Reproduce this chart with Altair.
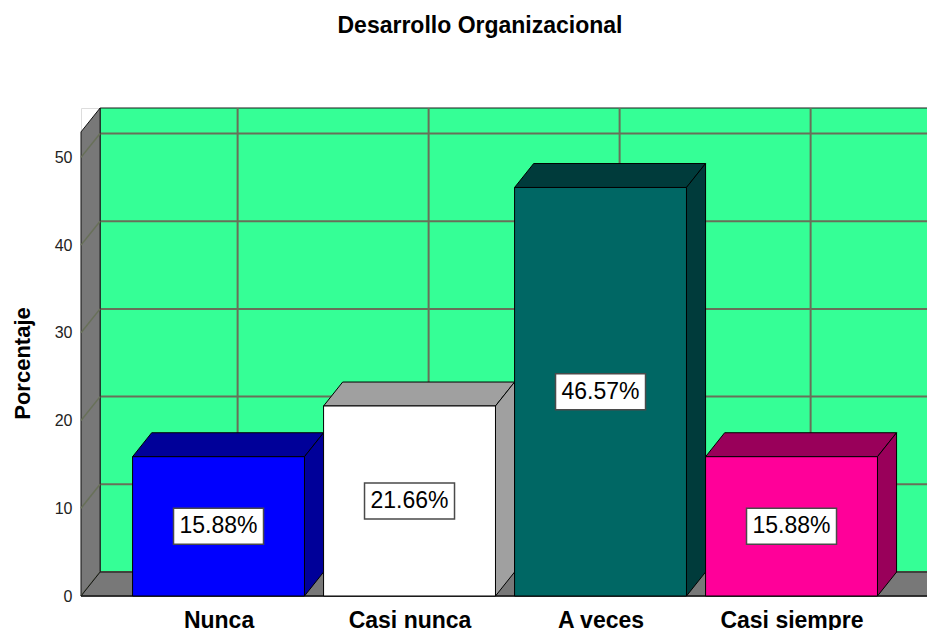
import json
import altair as alt
import pandas as pd

# ---------------- data ----------------
categories = ["Nunca", "Casi nunca", "A veces", "Casi siempre"]
values = [15.88, 21.66, 46.57, 15.88]
front_colors = ["#0000ff", "#ffffff", "#006764", "#ff0099"]
shade_colors = ["#000099", "#a0a0a0", "#003b3b", "#99005a"]
y_ticks = [0, 10, 20, 30, 40, 50]

# ---------------- 3-D frame settings (in data units) ----------------
PLOT_W = 846
X_MIN = -0.72
X_MAX = X_MIN + PLOT_W / 191.0  # visible x range of the plot area
FRAME_R = 3.72                  # front right edge of the floor
FRAME_TOP = 52.9                # front top of the side wall
DX, DY = 0.1, 2.73              # depth offset of the back plane
HALF = 0.45                     # half bar width
Y_MAX = FRAME_TOP + DY

GREEN = "#35ff96"
GRID = "#687059"
WALL = "#787878"
FONT = "Liberation Sans"

xs = alt.Scale(domain=[X_MIN, X_MAX], nice=False, zero=False)
ys = alt.Scale(domain=[0, Y_MAX], nice=False, zero=False)
idx = list(range(len(categories)))

x_axis = alt.Axis(
    values=idx,
    labelExpr=json.dumps(categories) + "[datum.value]",
    title=None, ticks=False, domain=False, grid=False,
    labelFont=FONT, labelFontSize=23, labelFontWeight="bold", labelColor="#000000",
    labelPadding=31, labelBaseline="alphabetic", labelFlush=False, labelOverlap=False,
)
y_axis = alt.Axis(
    values=y_ticks, title="Porcentaje", grid=False, ticks=False, tickSize=0, domain=False,
    labelFont=FONT, labelFontSize=16, labelColor="#222222", labelPadding=9, labelFlush=False,
    titleFont=FONT, titleFontSize=22, titleFontWeight="bold", titleColor="#000000",
    titleAngle=270, titleX=-52, titleY=255, titleAlign="center", titleBaseline="alphabetic",
)


def X(field="x"):
    return alt.X(f"{field}:Q", scale=xs, axis=x_axis, title=None)


def Y(field="y"):
    return alt.Y(f"{field}:Q", scale=ys, axis=y_axis, title="Porcentaje")


# back wall
wall_df = pd.DataFrame({"x": [X_MIN + DX], "x2": [FRAME_R + DX], "y": [DY], "y2": [FRAME_TOP + DY]})
wall = alt.Chart(wall_df).mark_rect(fill=GREEN, stroke="#1a1a1a", strokeWidth=1).encode(
    x=X(), x2="x2:Q", y=Y(), y2="y2:Q")

# back wall grid
hgrid_df = pd.DataFrame({"x": [X_MIN + DX] * len(y_ticks), "x2": [FRAME_R + DX] * len(y_ticks),
                         "y": [v + DY for v in y_ticks]})
hgrid = alt.Chart(hgrid_df).mark_rule(color=GRID, strokeWidth=2).encode(x=X(), x2="x2:Q", y=Y())
vgrid_df = pd.DataFrame({"x": [i + DX for i in idx], "y": [DY] * len(idx), "y2": [FRAME_TOP + DY] * len(idx)})
vgrid = alt.Chart(vgrid_df).mark_rule(color=GRID, strokeWidth=2).encode(x=X(), y=Y(), y2="y2:Q")

# side wall
side_df = pd.DataFrame({"x": [X_MIN, X_MIN + DX], "y": [0, DY], "y2": [FRAME_TOP, FRAME_TOP + DY]})
side = alt.Chart(side_df).mark_area(orient="vertical", fill=WALL, stroke="#111111", strokeWidth=1).encode(
    x=X(), y=Y(), y2="y2:Q")
diag_df = pd.DataFrame({"x": [X_MIN] * len(y_ticks), "x2": [X_MIN + DX] * len(y_ticks),
                        "y": y_ticks, "y2": [v + DY for v in y_ticks]})
diag = alt.Chart(diag_df).mark_rule(color=GRID, strokeWidth=1.5).encode(x=X(), x2="x2:Q", y=Y(), y2="y2:Q")

# floor
floor_df = pd.DataFrame({"y": [0, DY], "x": [X_MIN, X_MIN + DX], "x2": [FRAME_R, FRAME_R + DX]})
floor = alt.Chart(floor_df).mark_area(orient="horizontal", fill=WALL, stroke="#111111", strokeWidth=1).encode(
    y=Y(), x=X(), x2="x2:Q")
base_df = pd.DataFrame({"x": [X_MIN], "x2": [FRAME_R], "y": [0]})
baseline = alt.Chart(base_df).mark_rule(color="#222222", strokeWidth=1.5).encode(x=X(), x2="x2:Q", y=Y())

# bars: top faces, side faces, front faces
top_rows, side_rows, front_rows, lab_rows = [], [], [], []
for i, (c, v) in enumerate(zip(categories, values)):
    top_rows += [
        {"cat": c, "y": v, "x": i - HALF, "x2": i + HALF, "col": shade_colors[i]},
        {"cat": c, "y": v + DY, "x": i - HALF + DX, "x2": i + HALF + DX, "col": shade_colors[i]},
    ]
    side_rows += [
        {"cat": c, "x": i + HALF, "y": 0, "y2": v, "col": shade_colors[i]},
        {"cat": c, "x": i + HALF + DX, "y": DY, "y2": v + DY, "col": shade_colors[i]},
    ]
    front_rows.append({"cat": c, "x": i - HALF, "x2": i + HALF, "y": 0, "y2": v, "col": front_colors[i]})
    lab_rows.append({"cat": c, "x": i, "y": v / 2, "label": f"{v:.2f}%"})

tops = alt.Chart(pd.DataFrame(top_rows)).mark_area(orient="horizontal", stroke="#000000", strokeWidth=1).encode(
    y=Y(), x=X(), x2="x2:Q", fill=alt.Fill("col:N", scale=None), detail="cat:N")
sides = alt.Chart(pd.DataFrame(side_rows)).mark_area(orient="vertical", stroke="#000000", strokeWidth=1).encode(
    x=X(), y=Y(), y2="y2:Q", fill=alt.Fill("col:N", scale=None), detail="cat:N")
fronts = alt.Chart(pd.DataFrame(front_rows)).mark_rect(stroke="#000000", strokeWidth=1).encode(
    x=X(), x2="x2:Q", y=Y(), y2="y2:Q", fill=alt.Fill("col:N", scale=None))

lab_df = pd.DataFrame(lab_rows)
boxes = alt.Chart(lab_df).mark_point(
    shape="M-1,-0.4L1,-0.4L1,0.4L-1,0.4Z", size=8100, filled=True, fill="#ffffff",
    stroke="#4a4a4a", strokeWidth=1.5, opacity=1,
).encode(x=X(), y=Y())
texts = alt.Chart(lab_df).mark_text(font=FONT, fontSize=23, color="#000000", align="center", baseline="middle").encode(
    x=X(), y=Y(), text="label:N")

chart = alt.layer(
    wall, hgrid, vgrid, side, diag, floor, baseline, tops, sides, fronts, boxes, texts
).properties(
    width=PLOT_W, height=488,
    autosize=alt.AutoSizeParams(type="none"),
    padding={"left": 73, "top": 100, "right": 0, "bottom": 34},
    title=alt.TitleParams("Desarrollo Organizacional", font=FONT, fontSize=23, fontWeight="bold",
                          color="#000000", anchor="middle", frame="group", offset=50,
                          baseline="alphabetic", dx=-24),
).configure_view(stroke=None).configure(background="#ffffff")

chart.save("out.html", embed_options={"renderer": "svg", "actions": False})
